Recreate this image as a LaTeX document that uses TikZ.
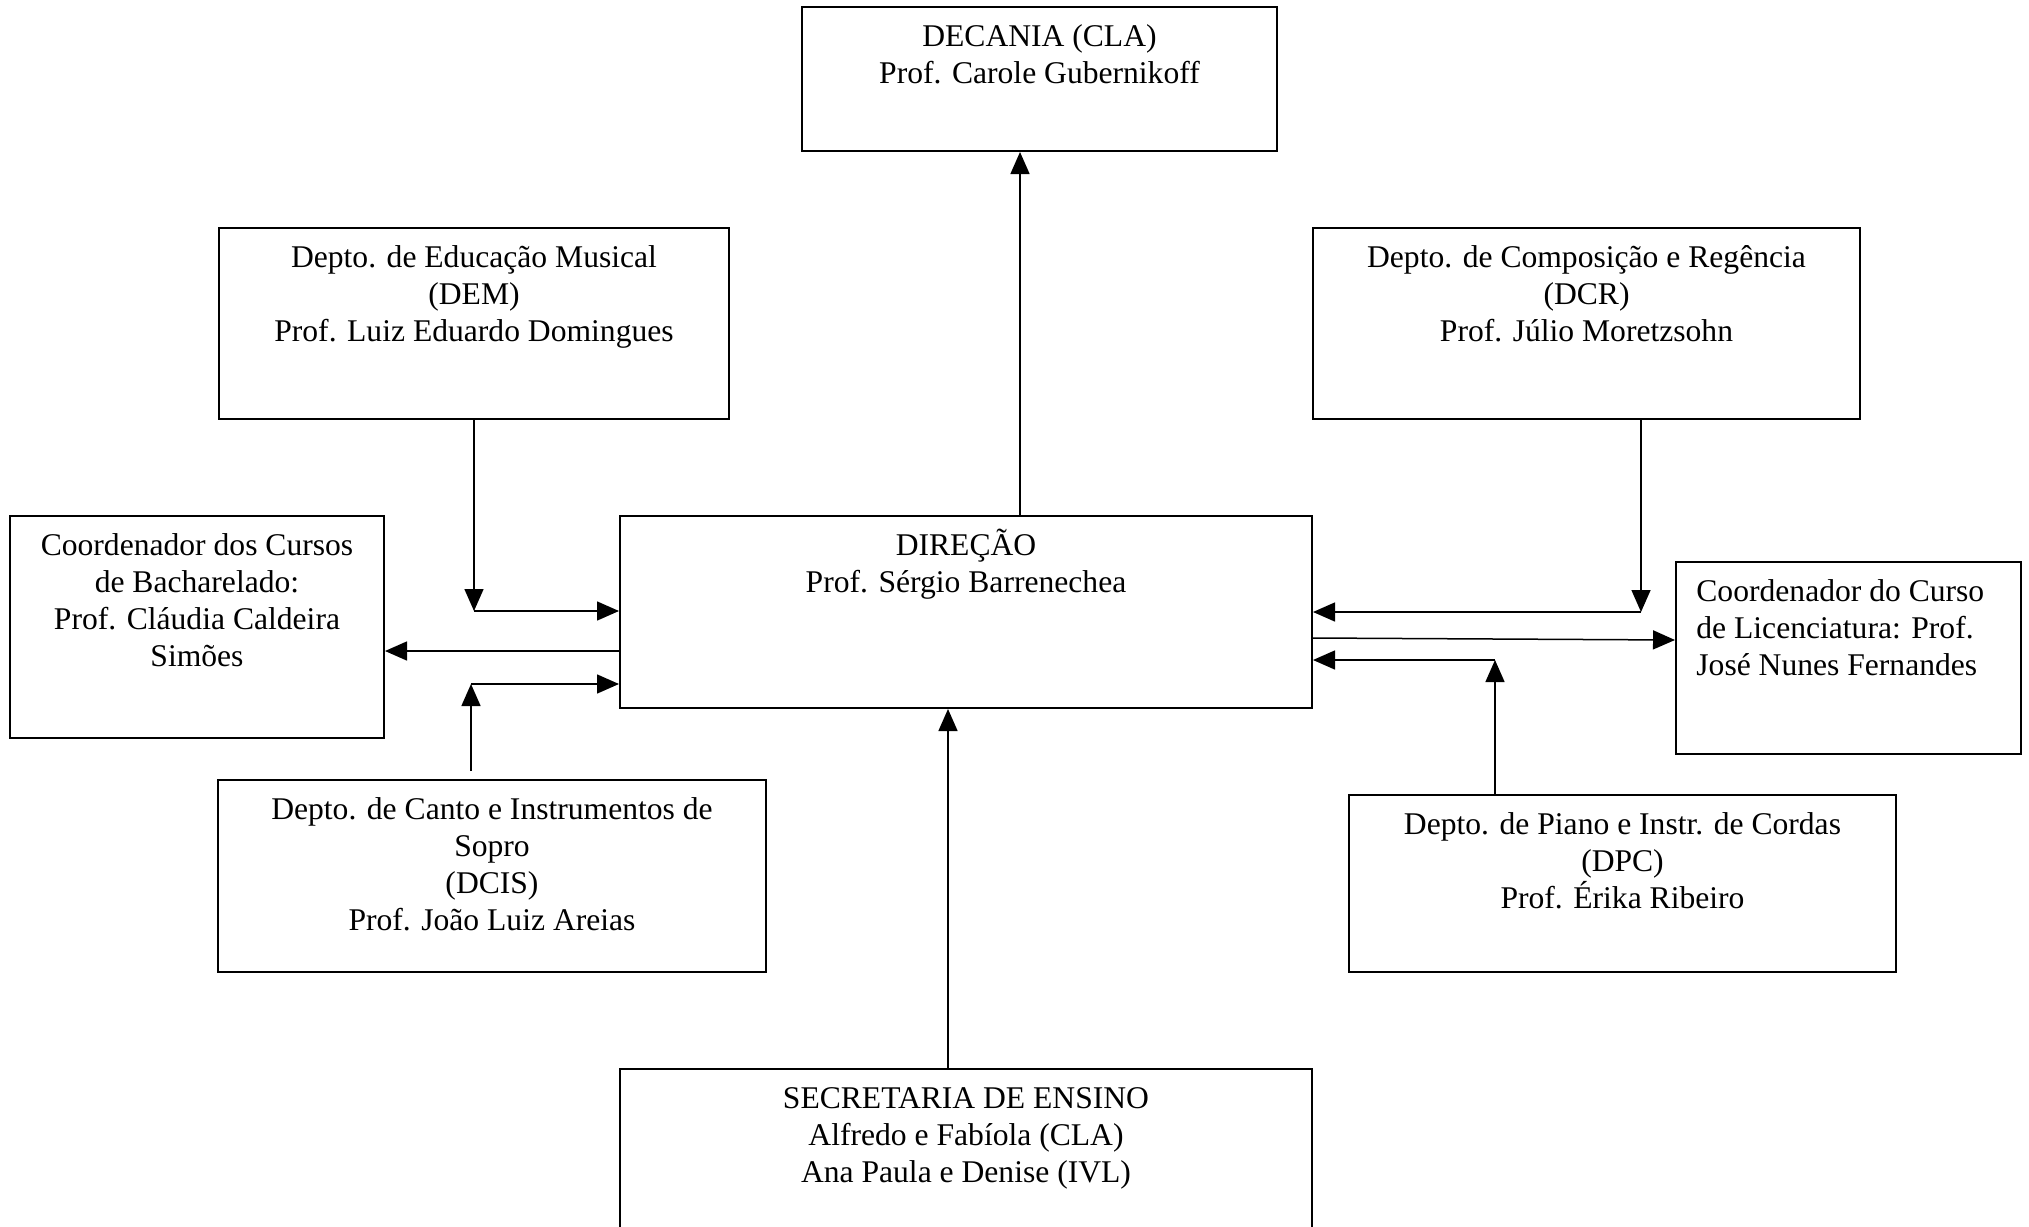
\documentclass[tikz,border=0pt]{standalone}
\usepackage{fontspec}
\setmainfont{Liberation Serif}
\usetikzlibrary{arrows.meta,fit}
\newcommand\orgbox[5]{\node[orgrect, fit={(#2,#3) (#4,#5)}] (#1) {};}
\begin{document}
\begin{tikzpicture}[x=0.5pt,y=-0.5pt,
  orgrect/.style={draw, line width=1pt, inner sep=0pt},
  lbl/.style={inner sep=0pt, align=center, font=\fontsize{15.8}{18.5}\selectfont},
  lbll/.style={inner sep=0pt, align=left, font=\fontsize{15.8}{18.5}\selectfont},
  arr/.style={line width=0.75pt, -{Triangle[length=11pt,width=9.5pt]}},
  ln/.style={line width=0.75pt}]
\useasboundingbox[fill=white] (0,0) rectangle (2029,1226);
\clip (0,0) rectangle (2029,1226);
% boxes
\orgbox{dec}{802}{7}{1277}{151}
\orgbox{dem}{219}{228}{729}{419}
\orgbox{dcr}{1313}{228}{1860}{419}
\orgbox{bach}{10}{516}{384}{738}
\orgbox{dir}{620}{516}{1312}{708}
\orgbox{lic}{1676}{562}{2021}{754}
\orgbox{dcis}{218}{780}{766}{972}
\orgbox{dpc}{1349}{795}{1896}{972}
\orgbox{sec}{620}{1069}{1312}{1250}
% labels
\node[lbl, anchor=north, yshift=-7pt] (dec-t) at (dec.north) {\strut DECANIA (CLA)\\Prof. Carole Gubernikoff};
\node[lbl, anchor=north, yshift=-7pt] (dem-t) at (dem.north) {\strut Depto. de Educação Musical\\(DEM)\\Prof. Luiz Eduardo Domingues};
\node[lbl, anchor=north, yshift=-7pt] (dcr-t) at (dcr.north) {\strut Depto. de Composição e Regência\\(DCR)\\Prof. Júlio Moretzsohn};
\node[lbl, anchor=north, yshift=-7pt] (bach-t) at (bach.north) {\strut Coordenador dos Cursos\\de Bacharelado:\\Prof. Cláudia Caldeira\\Simões};
\node[lbl, anchor=north, yshift=-7pt] (dir-t) at (dir.north) {\strut DIREÇÃO\\Prof. Sérgio Barrenechea};
\node[lbll, anchor=north west, yshift=-7pt, xshift=10.5pt] (lic-t) at (lic.north west) {\strut Coordenador do Curso\\de Licenciatura: Prof.\\José Nunes Fernandes};
\node[lbl, anchor=north, yshift=-7pt] (dcis-t) at (dcis.north) {\strut Depto. de Canto e Instrumentos de\\Sopro\\(DCIS)\\Prof. João Luiz Areias};
\node[lbl, anchor=north, yshift=-7pt] (dpc-t) at (dpc.north) {\strut Depto. de Piano e Instr. de Cordas\\(DPC)\\Prof. Érika Ribeiro};
\node[lbl, anchor=north, yshift=-7pt] (sec-t) at (sec.north) {\strut SECRETARIA DE ENSINO\\Alfredo e Fabíola (CLA)\\Ana Paula e Denise (IVL)};
% junction coordinates
\coordinate (xdec) at (1020,0);
\coordinate (xsec) at (948,0);
\coordinate (jdem) at (474,611);
\coordinate (ybach) at (0,651);
\coordinate (jdcis) at (471,684);
\coordinate (sdcis) at (471,771);
\coordinate (jdcr) at (1641,612);
\coordinate (ylicA) at (0,638);
\coordinate (ylicB) at (0,640);
\coordinate (jdpc) at (1495,660);
% connectors
\draw[arr] (dir.north -| xdec) -- (dec.south -| xdec);
\draw[arr] (dem.south -| jdem) -- (jdem);
\draw[arr] (jdem) -- (dir.west |- jdem);
\draw[arr] (dir.west |- ybach) -- (bach.east |- ybach);
\draw[arr] (sdcis) -- (jdcis);
\draw[arr] (jdcis) -- (dir.west |- jdcis);
\draw[arr] (dcr.south -| jdcr) -- (jdcr);
\draw[arr] (jdcr) -- (dir.east |- jdcr);
\draw[arr] (dir.east |- ylicA) -- (lic.west |- ylicB);
\draw[arr] (dpc.north -| jdpc) -- (jdpc);
\draw[arr] (jdpc) -- (dir.east |- jdpc);
\draw[arr] (sec.north -| xsec) -- (dir.south -| xsec);
\end{tikzpicture}
\end{document}
